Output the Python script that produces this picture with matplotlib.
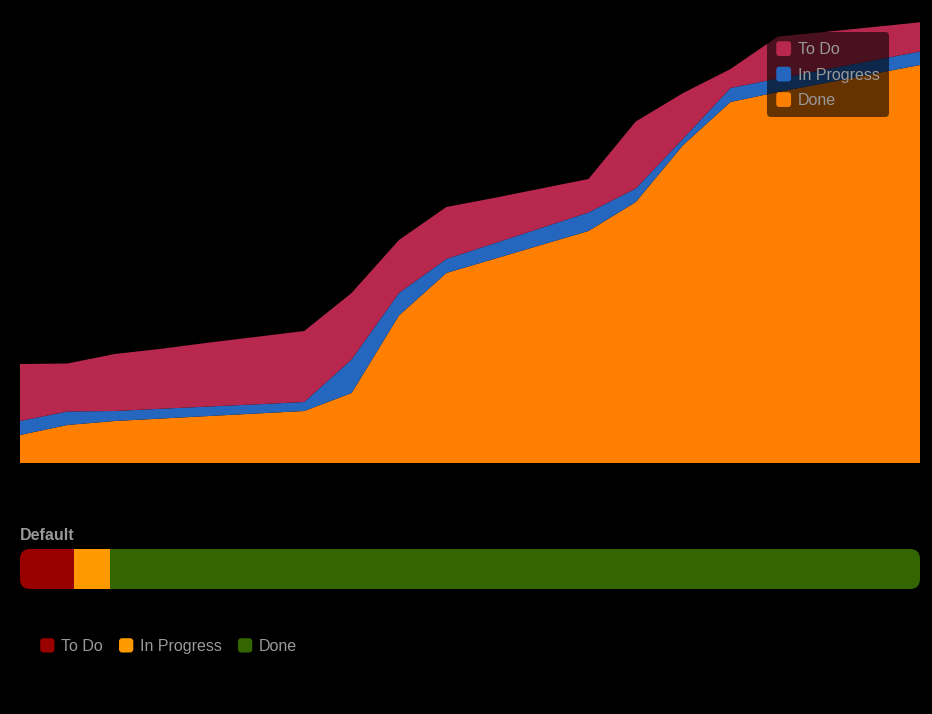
import matplotlib
matplotlib.use('Agg')
import matplotlib.pyplot as plt
from matplotlib.patches import FancyBboxPatch, Patch
from matplotlib.legend_handler import HandlerPatch
import numpy as np

plt.rcParams['font.family'] = ['Liberation Sans', 'DejaVu Sans']

# cumulative flow data (arbitrary units)
periods = list(range(20))
done = [28, 38, 42, 44.5, 47, 49.5, 52, 70, 147.5, 190, 204, 218, 232, 261, 318, 361, 371, 380, 389, 398]
in_progress = [14, 13.5, 10, 9.8, 9.5, 9.2, 9, 33.5, 22.5, 14, 15.5, 17, 18.5, 13.5, 6.5, 14, 13.5, 13.5, 13.5, 13.5]
to_do = [57, 48, 57, 60, 64, 67.5, 71, 66.5, 53, 52, 45.5, 39.5, 33.5, 67, 45.5, 19, 42, 37.6, 33.4, 29.2]

series_labels = ['Done', 'In Progress', 'To Do']
series_colors = ['#FF8000', '#2566BF', '#B8284E']

# status summary bar (percent of issues)
bar_title = 'Default'
bar_labels = ['To Do', 'In Progress', 'Done']
bar_values = [6, 4, 90]
bar_colors = ['#990000', '#FF9900', '#336600']

TEXT = '#999999'


class RoundSquareHandler(HandlerPatch):
    """Legend handle drawn as a small rounded square."""

    def create_artists(self, legend, orig_handle, xdescent, ydescent,
                       width, height, fontsize, trans):
        side = min(width, height)
        p = FancyBboxPatch((-xdescent, -ydescent + (height - side) / 2), side, side,
                           boxstyle='round,pad=0,rounding_size=%f' % (side * 0.22),
                           facecolor=orig_handle.get_facecolor(), edgecolor='none',
                           transform=trans)
        return [p]


W, H = 932, 714
fig = plt.figure(figsize=(W / 100, H / 100), dpi=100, facecolor='black')

# main stacked area chart
ax = fig.add_axes([20 / W, 1 - 463 / H, 900 / W, 463 / H])
ax.set_facecolor('black')
ax.stackplot(periods, done, in_progress, to_do, colors=series_colors,
             labels=series_labels, linewidth=0)
ax.set_xlim(periods[0], periods[-1])
ax.set_ylim(0, 463)
ax.axis('off')

handles = [Patch(facecolor=c, label=l) for c, l in zip(series_colors, series_labels)][::-1]
leg = ax.legend(handles=handles, loc='upper left',
                bbox_to_anchor=(767 / W, 1 - 32 / H), bbox_transform=fig.transFigure,
                handler_map={Patch: RoundSquareHandler()},
                handlelength=1.05, handleheight=1.05, handletextpad=0.3,
                labelspacing=0.6, borderpad=0.58, borderaxespad=0,
                fontsize=11.5, labelcolor=TEXT, fancybox=True,
                facecolor='black', edgecolor='none', framealpha=0.6)
leg.get_frame().set_boxstyle('round,pad=0,rounding_size=0.25')

# status bar
bx = fig.add_axes([20 / W, 1 - 589 / H, 900 / W, 40 / H])
bx.set_xlim(0, 100)
bx.set_ylim(0, 1)
bx.axis('off')
px_x = 100 / 900
px_y = 1 / 40
clip = FancyBboxPatch((0, 0), 100, 1,
                      boxstyle='round,pad=0,rounding_size=%f' % (10 * px_x),
                      mutation_aspect=px_y / px_x,
                      facecolor='none', edgecolor='none', transform=bx.transData)
bx.add_patch(clip)
left = 0
for v, c in zip(bar_values, bar_colors):
    b = bx.barh(0.5, v, left=left, height=1, color=c, linewidth=0)
    for r in b:
        r.set_clip_path(clip)
    left += v

fig.text(20 / W, 1 - 535 / H, bar_title, color=TEXT, fontsize=11.5,
         fontweight='bold', va='center', ha='left')

bar_handles = [Patch(facecolor=c, label=l) for c, l in zip(bar_colors, bar_labels)]
fig.legend(handles=bar_handles, loc='center left', ncol=3,
           bbox_to_anchor=(37 / W, 1 - 646 / H),
           handler_map={Patch: RoundSquareHandler()},
           handlelength=1.0, handleheight=1.0, handletextpad=0.3,
           columnspacing=1.02, borderpad=0.2, borderaxespad=0,
           fontsize=11.5, labelcolor=TEXT, frameon=False)

fig.savefig('out.png', dpi=100, facecolor='black')
